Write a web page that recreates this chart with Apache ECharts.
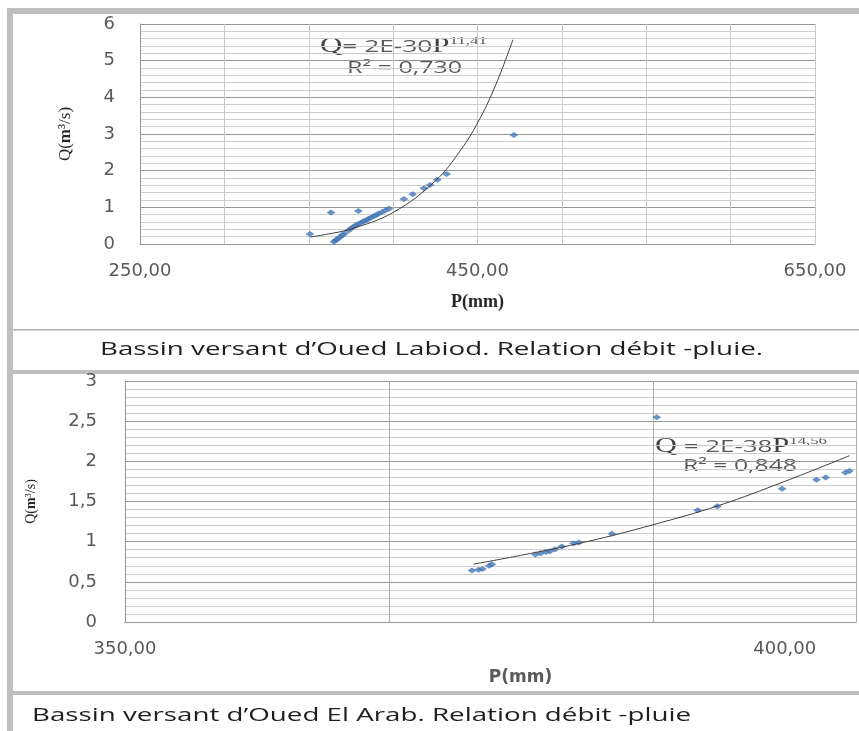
<!DOCTYPE html>
<html><head><meta charset="utf-8">
<script src="https://cdn.jsdelivr.net/npm/echarts@6/dist/echarts.min.js"></script>
<style>html,body{margin:0;padding:0;background:#fff;overflow:hidden}#c{width:859px;height:731px}</style>
</head><body><div id="c"></div>
<script>
// ---- Oued Labiod (top) ----
const labiodP = [350.7, 363.2, 379.4, 365.0, 366.0, 367.2, 368.5, 369.8, 371.0, 373.5, 375.0, 376.5, 378.0, 379.5, 381.0, 382.5, 384.0, 385.5, 387.0, 388.5, 390.0, 391.5, 393.5, 395.5, 397.5, 406.4, 411.6, 418.3, 421.9, 426.2, 431.7, 471.6];
const labiodQ = [0.27, 0.86, 0.90, 0.06, 0.10, 0.14, 0.19, 0.24, 0.28, 0.37, 0.42, 0.47, 0.51, 0.55, 0.58, 0.62, 0.65, 0.69, 0.72, 0.76, 0.79, 0.83, 0.87, 0.92, 0.96, 1.23, 1.36, 1.52, 1.61, 1.75, 1.91, 2.97];
const labiodTrendP = [351, 360, 375, 400, 425, 440, 450, 460, 471];
const labiodTrendQ = [0.19, 0.26, 0.41, 0.86, 1.72, 2.56, 3.30, 4.25, 5.57];
const labiodPTicks = [250, 450, 650];
// ---- Oued El Arab (bottom) ----
const elArabP = [376.3, 376.8, 377.1, 377.6, 377.8, 381.1, 381.5, 381.9, 382.2, 382.6, 383.1, 384.0, 384.4, 386.9, 390.3, 393.4, 394.9, 399.8, 402.4, 403.1, 404.6, 404.9];
const elArabQ = [0.64, 0.65, 0.66, 0.70, 0.72, 0.84, 0.855, 0.87, 0.88, 0.905, 0.94, 0.98, 0.99, 1.10, 2.55, 1.39, 1.44, 1.66, 1.77, 1.80, 1.86, 1.88];
const elArabTrendP = [376.4, 380, 385, 390, 395, 400, 404.9];
const elArabTrendQ = [0.72, 0.83, 1.00, 1.21, 1.45, 1.75, 2.07];
const elArabPTicks = [350, 400];

const caption1 = 'Bassin versant d\u2019Oued Labiod. Relation débit -pluie.';
const caption2 = 'Bassin versant d\u2019Oued El Arab. Relation débit -pluie';

const zip = (a, b) => a.map((v, i) => [v, b[i]]);
const fmtQ = v => String(v).replace('.', ',');
const fmtP = v => v.toFixed(2).replace('.', ',');

const mctx = document.createElement('canvas').getContext('2d');
function tw(text, size, family, weight) {
  mctx.font = (weight || 'normal') + ' ' + size + 'px "' + family + '"';
  return mctx.measureText(text).width;
}

const LBL = {fontFamily: 'DejaVu Sans', fontSize: 18, color: '#595959'};
const MAJ = '#969696', MIN = '#cdcdcd', VGRID = '#c8c8c8';

const eqRich = {
  s: {fontFamily: 'Liberation Serif', fontSize: 20, fill: '#404040', lineHeight: 22},
  a: {fontFamily: 'Open Sans', fontSize: 17, fill: '#595959', lineHeight: 22},
  u: {fontFamily: 'Liberation Serif', fontSize: 11, fill: '#595959', lineHeight: 22, verticalAlign: 'top'}
};
function eqWidth(a, sup) {
  return tw('Q', 20, 'Liberation Serif') + tw(a, 17, 'Open Sans') + tw('P', 20, 'Liberation Serif') + tw(sup, 11, 'Liberation Serif');
}
function textEl(x, y, text, size, family, color, targetW, weight) {
  const s = targetW / tw(text, size, family, weight);
  return {type: 'text', x: x, y: y, scaleX: s, silent: true,
    style: {text: text, fontSize: size, fontFamily: family, fontWeight: weight || 'normal', fill: color,
      align: 'left', textAlign: 'left', verticalAlign: 'middle', textVerticalAlign: 'middle'}};
}
function eqEl(x, y, a, sup, targetW) {
  const s = targetW / eqWidth(a, sup);
  return {type: 'text', x: x, y: y, scaleX: s, silent: true,
    style: {text: '{s|Q}{a|' + a + '}{s|P}{u|' + sup + '}', rich: eqRich,
      align: 'left', textAlign: 'left', verticalAlign: 'middle', textVerticalAlign: 'middle'}};
}

const chart = echarts.init(document.getElementById('c'));
chart.setOption({
  animation: false,
  backgroundColor: '#ffffff',
  grid: [
    {left: 140, top: 24, width: 675, height: 220},
    {left: 125, top: 381, width: 734, height: 241}
  ],
  xAxis: [
    {gridIndex: 0, type: 'value', min: 250, max: 650, interval: 50,
      axisLine: {show: true, lineStyle: {color: MAJ}}, axisTick: {show: false},
      splitLine: {show: true, lineStyle: {color: VGRID}},
      axisLabel: Object.assign({margin: 18, formatter: v => labiodPTicks.includes(v) ? fmtP(v) : ''}, LBL),
      name: 'P(mm)', nameLocation: 'middle', nameGap: 49,
      nameTextStyle: {fontFamily: 'Liberation Serif', fontWeight: 'bold', fontSize: 18, color: '#262626'}},
    {gridIndex: 1, type: 'value', position: 'bottom', min: 350, max: 405.4, interval: 20,
      axisLine: {show: false}, axisTick: {show: false}, axisLabel: {show: false},
      splitLine: {show: true, lineStyle: {color: '#adadad'}}},
    {gridIndex: 1, type: 'value', position: 'bottom', min: 350, max: 405.4, interval: 50,
      axisLine: {show: true, lineStyle: {color: MAJ}}, axisTick: {show: false},
      splitLine: {show: false},
      axisLabel: Object.assign({margin: 18, formatter: v => elArabPTicks.includes(v) ? fmtP(v) : ''}, LBL),
      name: 'P(mm)', nameLocation: 'middle', nameGap: 47,
      nameTextStyle: {fontFamily: 'DejaVu Sans', fontWeight: 'bold', fontSize: 17, color: '#595959', padding: [0, 0, 0, 60]}}
  ],
  yAxis: [
    {gridIndex: 0, type: 'value', min: 0, max: 6, interval: 1,
      axisLine: {show: true, lineStyle: {color: MAJ}}, axisTick: {show: false},
      splitLine: {show: true, lineStyle: {color: MAJ}},
      minorTick: {show: false, splitNumber: 5},
      minorSplitLine: {show: true, lineStyle: {color: MIN}},
      axisLabel: Object.assign({margin: 25, formatter: fmtQ}, LBL),
      name: '{n|Q(}{b|m}{n|³/s)}', nameLocation: 'middle', nameRotate: 90, nameGap: 66,
      nameTextStyle: {rich: {
        n: {fontFamily: 'Liberation Serif', fontSize: 17, color: '#262626'},
        b: {fontFamily: 'Liberation Serif', fontSize: 17, fontWeight: 'bold', color: '#262626'}}}},
    {gridIndex: 1, type: 'value', min: 0, max: 3, interval: 0.5,
      axisLine: {show: true, lineStyle: {color: MAJ}}, axisTick: {show: false},
      splitLine: {show: true, lineStyle: {color: MAJ}},
      minorTick: {show: false, splitNumber: 5},
      minorSplitLine: {show: true, lineStyle: {color: MIN}},
      axisLabel: Object.assign({margin: 28, formatter: fmtQ}, LBL),
      name: '{n|Q(}{b|m}{n|³/s)}', nameLocation: 'middle', nameRotate: 90, nameGap: 87,
      nameTextStyle: {rich: {
        n: {fontFamily: 'Liberation Serif', fontSize: 14, color: '#262626'},
        b: {fontFamily: 'Liberation Serif', fontSize: 14, fontWeight: 'bold', color: '#262626'}}}}
  ],
  series: [
    {type: 'scatter', xAxisIndex: 0, yAxisIndex: 0, data: zip(labiodP, labiodQ),
      symbol: 'diamond', symbolSize: [9, 6], itemStyle: {color: '#4678b8'}, z: 3},
    {type: 'line', xAxisIndex: 0, yAxisIndex: 0, data: zip(labiodTrendP, labiodTrendQ),
      smooth: 0.4, showSymbol: false, symbol: 'none', lineStyle: {color: '#404040', width: 1}, z: 4},
    {type: 'scatter', xAxisIndex: 2, yAxisIndex: 1, data: zip(elArabP, elArabQ),
      symbol: 'diamond', symbolSize: [9, 6], itemStyle: {color: '#4678b8'}, z: 3},
    {type: 'line', xAxisIndex: 2, yAxisIndex: 1, data: zip(elArabTrendP, elArabTrendQ),
      smooth: 0.4, showSymbol: false, symbol: 'none', lineStyle: {color: '#404040', width: 1}, z: 4}
  ],
  graphic: [
    {type: 'rect', silent: true, shape: {x: 7, y: 8, width: 6, height: 723}, style: {fill: '#bfbfbf'}},
    {type: 'rect', silent: true, shape: {x: 7, y: 8, width: 852, height: 6}, style: {fill: '#bfbfbf'}},
    {type: 'rect', silent: true, shape: {x: 13, y: 329, width: 846, height: 1.5}, style: {fill: '#b0b0b0'}},
    {type: 'rect', silent: true, shape: {x: 13, y: 370, width: 846, height: 4}, style: {fill: '#bfbfbf'}},
    {type: 'rect', silent: true, shape: {x: 13, y: 691, width: 846, height: 4}, style: {fill: '#bfbfbf'}},
    textEl(100, 350, caption1, 18, 'Open Sans', '#1f1f1f', 663),
    textEl(32, 716, caption2, 18, 'Open Sans', '#1f1f1f', 659),
    eqEl(320, 47, '= 2E-30', '11,41', 167),
    textEl(347, 68, 'R² = 0,730', 17, 'Open Sans', '#595959', 115),
    eqEl(655, 447, ' = 2E-38', '14,56', 172),
    textEl(683, 466, 'R² = 0,848', 17, 'Open Sans', '#595959', 114)
  ]
});
</script>
</body></html>
